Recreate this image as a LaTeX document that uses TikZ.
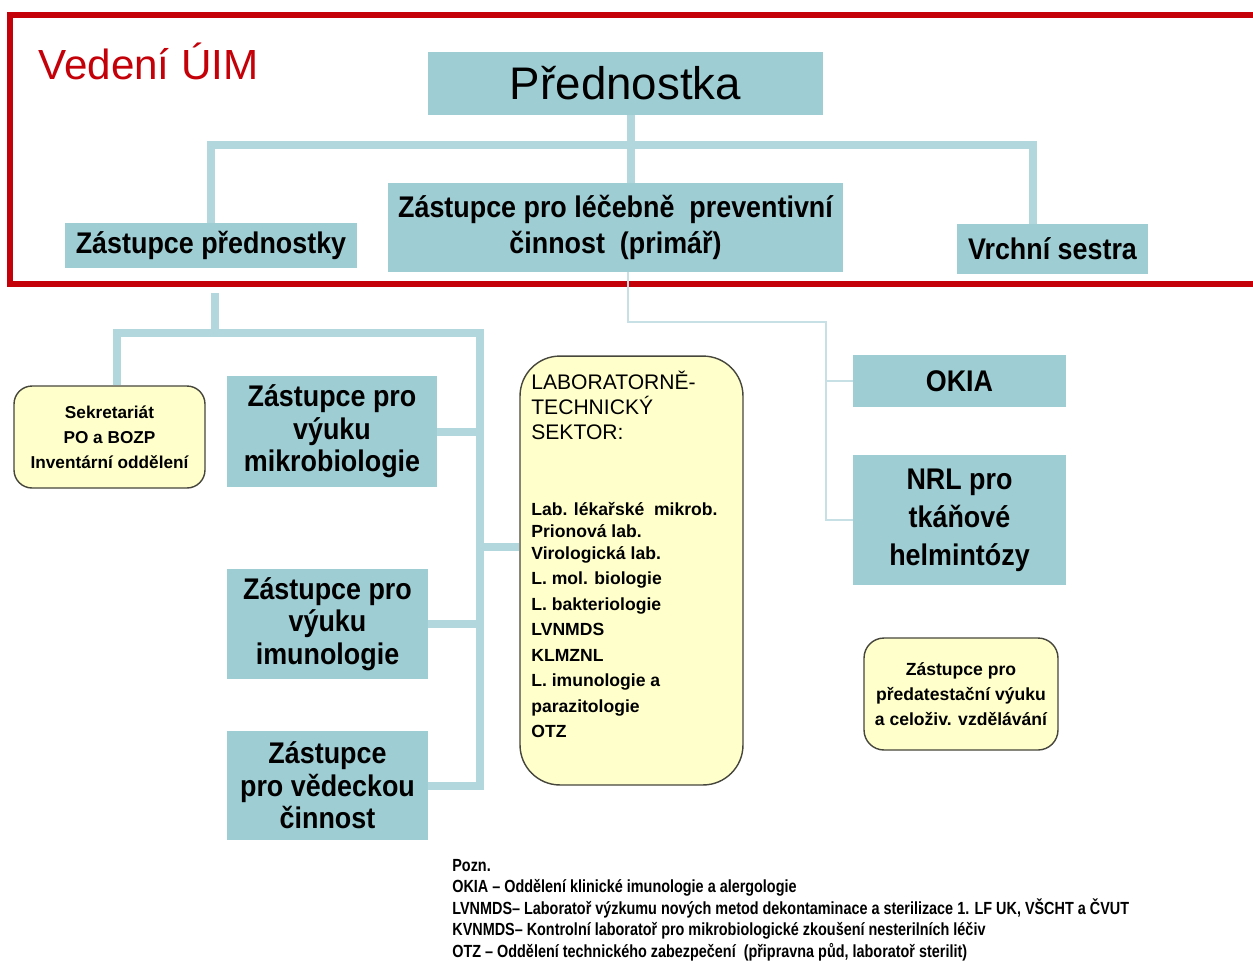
\documentclass[tikz,border=0pt]{standalone}
\usepackage{fontspec}
\setmainfont{Liberation Sans}
\newfontfamily\narrowfont[FakeStretch=0.9]{Liberation Sans}
\newfontfamily\notefont[FakeStretch=0.82]{Liberation Sans}
\usetikzlibrary{calc}

\definecolor{boxteal}{RGB}{158,206,212}
\definecolor{lineteal}{RGB}{178,215,221}
\definecolor{thinteal}{RGB}{198,224,229}
\definecolor{framered}{RGB}{196,0,8}
\definecolor{noteyellow}{RGB}{255,255,204}
\definecolor{notegray}{RGB}{70,70,60}

\tikzset{
  tealbox/.style={fill=boxteal, draw=none, align=center, inner sep=0pt},
  headbox/.style={tealbox, font=\narrowfont\bfseries\fontsize{17}{20.5}\selectfont},
  unitbox/.style={tealbox, font=\narrowfont\bfseries\fontsize{17}{18.5}\selectfont},
  notebox/.style={fill=noteyellow, draw=notegray, line width=0.8pt, rounded corners=0.36cm,
    align=center, inner sep=0pt, font=\bfseries\fontsize{9.8}{14.2}\selectfont},
  conn/.style={draw=lineteal, line width=0.16cm},
  thinconn/.style={draw=thinteal, line width=1.1pt},
  frame/.style={draw=framered, line width=0.12cm}
}

\begin{document}
\begin{tikzpicture}[x=0.02cm, y=-0.02cm]
\useasboundingbox (0,0) rectangle (1253,961);

% vedeni
\draw[frame] (10,15) rectangle (1275,284);
\node[anchor=base west, inner sep=0pt, text=framered, font=\fontsize{24}{28}\selectfont] (vedeni) at (38,79) {Vedení ÚIM};

\node[tealbox, minimum width=7.9cm, minimum height=1.26cm, font=\fontsize{26}{30}\selectfont] (prednostka) at (625.5,83.5) {Přednostka};
\node[headbox, minimum width=5.84cm, minimum height=0.9cm] (zastPred) at (211,245.5) {Zástupce přednostky};
\node[headbox, minimum width=9.1cm, minimum height=1.78cm] (primar) at (615.5,227.5) {Zástupce pro léčebně\ \ preventivní\\činnost\ \ (primář)};
\node[headbox, minimum width=3.82cm, minimum height=1cm] (sestra) at (1052.5,249) {Vrchní sestra};

% under zastupce prednostky
\node[notebox, minimum width=3.82cm, minimum height=2.04cm] (sekretariat) at (109.5,437) {Sekretariát\\PO a BOZP\\Inventární oddělení};
\node[unitbox, minimum width=4.2cm, minimum height=2.22cm] (mikro) at (332,431.5) {Zástupce pro\\výuku\\mikrobiologie};
\node[unitbox, minimum width=4.02cm, minimum height=2.2cm] (imuno) at (327.5,624) {Zástupce pro\\výuku\\imunologie};
\node[unitbox, minimum width=4.02cm, minimum height=2.18cm] (veda) at (327.5,785.5) {Zástupce\\pro vědeckou\\činnost};

\node[notebox, rounded corners=0.8cm, minimum width=4.46cm, minimum height=8.58cm] (lab) at (631.5,570.5) {};
\node[anchor=north west, align=left, inner sep=0pt, font=\fontsize{12}{14.2}\selectfont] (labhead) at (531,371) {LABORATORNĚ-\\TECHNICKÝ\\SEKTOR:};
\node[anchor=north west, align=left, inner sep=0pt, font=\bfseries\fontsize{10}{14.5}\selectfont] (labitems) at (531,502)
  {Lab. lékařské\ \ mikrob.\\[-2pt]Prionová lab.\\[-2pt]Virologická lab.\\L. mol. biologie\\L. bakteriologie\\LVNMDS\\KLMZNL\\L. imunologie a\\parazitologie\\OTZ};

% under primar
\node[unitbox, minimum width=4.26cm, minimum height=1.04cm] (okia) at (959.5,381) {OKIA};
\node[tealbox, font=\narrowfont\bfseries\fontsize{17}{21.6}\selectfont, minimum width=4.26cm, minimum height=2.6cm] (nrl) at (959.5,520) {NRL pro\\tkáňové\\helmintózy};
\node[notebox, rounded corners=0.4cm, minimum width=3.88cm, minimum height=2.24cm, font=\bfseries\fontsize{10}{14.2}\selectfont] (atest) at (961,694) {Zástupce pro\\předatestační výuku\\a celoživ. vzdělávání};

% connectors
\coordinate (busTop) at (631,145);
\coordinate (sestraTop) at ([xshift=-0.39cm]sestra.north);
\draw[conn] (prednostka.south -| busTop) -- (primar.north -| busTop);
\draw[conn] (zastPred.north) |- (busTop) -| (sestraTop);

\coordinate (zpDrop) at ([xshift=0.08cm,yshift=-0.5cm]zastPred.south);
\coordinate (bus2L) at (117,333);
\coordinate (bus2R) at (480,333);
\coordinate (bus2End) at (480,790);
\draw[conn] (zpDrop) -- (zpDrop |- bus2L);
\draw[conn] (sekretariat.north -| bus2L) -- (bus2L) -- (bus2R) -- (bus2End);
\draw[conn] (mikro.east) -- (mikro.east -| bus2R);
\draw[conn] (imuno.east) -- (imuno.east -| bus2R);
\draw[conn] (veda.east) -- (veda.east -| bus2R);
\draw[conn] ([yshift=0.47cm]lab.west) -- ([yshift=0.47cm]lab.west -| bus2R);

\coordinate (thinTop) at ([xshift=0.25cm]primar.south);
\coordinate (thinBend) at (826,322);
\draw[thinconn] (thinTop) |- (thinBend) |- (nrl.west);
\draw[thinconn] (okia.west) -- (okia.west -| thinBend);

% poznamky
\node[anchor=north west, align=left, inner sep=0pt, font=\notefont\bfseries\fontsize{10}{12.2}\selectfont] (pozn) at (452,859)
  {Pozn.\\OKIA – Oddělení klinické imunologie a alergologie\\LVNMDS– Laboratoř výzkumu nových metod dekontaminace a sterilizace 1. LF UK, VŠCHT a ČVUT\\KVNMDS– Kontrolní laboratoř pro mikrobiologické zkoušení nesterilních léčiv\\OTZ – Oddělení technického zabezpečení\ \ (připravna půd, laboratoř sterilit)};
\end{tikzpicture}
\end{document}
